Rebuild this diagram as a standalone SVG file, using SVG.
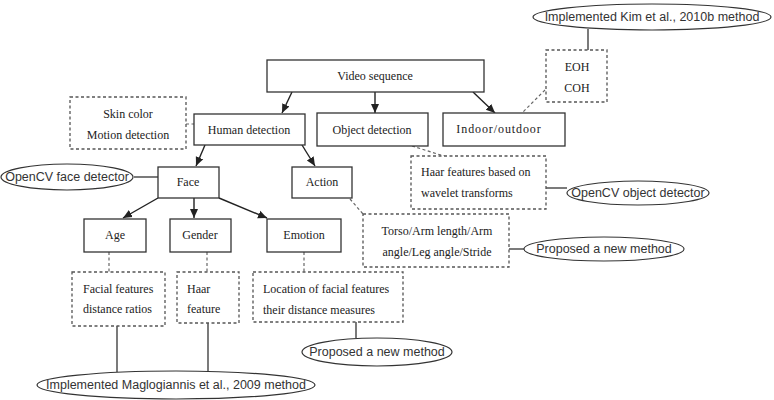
<svg xmlns="http://www.w3.org/2000/svg" width="774" height="400" viewBox="0 0 774 400">
<defs>
<marker id="ah" markerWidth="10" markerHeight="10" refX="9" refY="5" orient="auto" markerUnits="userSpaceOnUse">
<path d="M0,1 L9,5 L0,9 Z" fill="#222"/>
</marker>
<style>
.box{fill:#fff;stroke:#333;stroke-width:1.3}
.dbox{fill:#fff;stroke:#555;stroke-width:1.3;stroke-dasharray:3,2.5}
.ell{fill:#fff;stroke:#333;stroke-width:1.2}
.t{font-family:"Liberation Serif","Times New Roman",serif;font-size:12px;fill:#222}
.s{font-family:"Liberation Sans",Arial,sans-serif;font-size:12.5px;fill:#333}
.c{text-anchor:middle}
.arr{stroke:#222;stroke-width:1.4;fill:none;marker-end:url(#ah)}
.ln{stroke:#333;stroke-width:1.3;fill:none}
.dl{stroke:#666;stroke-width:1.2;fill:none;stroke-dasharray:3,2.5}
</style>
</defs>
<rect width="774" height="400" fill="#fff"/>
<g id="connectors">
<line class="arr" x1="292" y1="92" x2="282" y2="113"/>
<line class="arr" x1="375" y1="92" x2="375" y2="113"/>
<line class="arr" x1="473" y1="92" x2="495" y2="113"/>
<line class="arr" x1="205" y1="145" x2="196" y2="166"/>
<line class="arr" x1="302" y1="145" x2="315" y2="166"/>
<line class="arr" x1="158" y1="198" x2="123" y2="218"/>
<line class="arr" x1="194" y1="198" x2="194" y2="218"/>
<line class="arr" x1="219" y1="198" x2="267" y2="218"/>
<line class="dl" x1="186" y1="124" x2="194" y2="124"/>
<line class="ln" x1="134" y1="177" x2="158" y2="177"/>
<line class="dl" x1="412" y1="146" x2="447" y2="157"/>
<line class="dl" x1="545" y1="90" x2="522" y2="113"/>
<line class="ln" x1="588" y1="29" x2="588" y2="50"/>
<line class="ln" x1="546" y1="188" x2="567" y2="188"/>
<line class="dl" x1="350" y1="199" x2="363" y2="214"/>
<line class="ln" x1="509" y1="249" x2="524" y2="249"/>
<line class="dl" x1="109" y1="252" x2="109" y2="272"/>
<line class="dl" x1="207" y1="252" x2="207" y2="272"/>
<line class="dl" x1="304" y1="252" x2="304" y2="272"/>
<line class="ln" x1="356" y1="322" x2="356" y2="338"/>
<line class="ln" x1="117" y1="326" x2="117" y2="372"/>
<line class="ln" x1="208" y1="323" x2="208" y2="372"/>
</g>
<g id="video-sequence"><rect class="box" x="267" y="60" width="217" height="32"/><text class="t c" x="375" y="80">Video sequence</text></g>
<g id="human-detection"><rect class="box" x="194" y="114" width="111" height="31"/><text class="t c" x="249" y="134">Human detection</text></g>
<g id="object-detection"><rect class="box" x="317" y="113" width="111" height="33"/><text class="t c" x="372" y="134">Object detection</text></g>
<g id="indoor-outdoor"><rect class="box" x="443" y="113" width="122" height="33"/><text class="t c" x="499" y="133" letter-spacing="0.9">Indoor/outdoor</text></g>
<g id="skin-motion"><rect class="dbox" x="70" y="97" width="116" height="52"/><text class="t c" x="128" y="118">Skin color</text><text class="t c" x="128" y="139">Motion detection</text></g>
<g id="face"><rect class="box" x="158" y="167" width="61" height="31"/><text class="t c" x="188" y="186">Face</text></g>
<g id="action"><rect class="box" x="292" y="167" width="60" height="31"/><text class="t c" x="322" y="186">Action</text></g>
<g id="opencv-face"><ellipse class="ell" cx="67" cy="177" rx="66" ry="13"/><text class="s c" x="67" y="181">OpenCV face detector</text></g>
<g id="eoh-coh"><rect class="dbox" x="546" y="50" width="61" height="52"/><text class="t c" x="577" y="71">EOH</text><text class="t c" x="577" y="92">COH</text></g>
<g id="kim"><ellipse class="ell" cx="652" cy="17" rx="119" ry="13"/><text class="s c" x="652" y="21">Implemented Kim et al., 2010b method</text></g>
<g id="haar-wavelet"><rect class="dbox" x="411" y="156" width="135" height="53"/><text class="t" x="421" y="176">Haar features based on</text><text class="t" x="421" y="197">wavelet transforms</text></g>
<g id="opencv-object"><ellipse class="ell" cx="638" cy="193" rx="71" ry="12"/><text class="s c" x="638" y="197">OpenCV object detector</text></g>
<g id="torso"><rect class="dbox" x="363" y="214" width="146" height="53"/><text class="t c" x="437" y="235">Torso/Arm length/Arm</text><text class="t c" x="437" y="256">angle/Leg angle/Stride</text></g>
<g id="proposed-right"><ellipse class="ell" cx="604" cy="249" rx="80" ry="12"/><text class="s c" x="604" y="253">Proposed a new method</text></g>
<g id="age"><rect class="box" x="84" y="219" width="62" height="33"/><text class="t c" x="115" y="239">Age</text></g>
<g id="gender"><rect class="box" x="170" y="219" width="61" height="33"/><text class="t c" x="200" y="239">Gender</text></g>
<g id="emotion"><rect class="box" x="267" y="219" width="74" height="33"/><text class="t c" x="304" y="239">Emotion</text></g>
<g id="facial-ratios"><rect class="dbox" x="72" y="272" width="93" height="54"/><text class="t" x="83" y="293">Facial features</text><text class="t" x="83" y="313">distance ratios</text></g>
<g id="haar-feature"><rect class="dbox" x="177" y="272" width="62" height="51"/><text class="t" x="187" y="293">Haar</text><text class="t" x="187" y="313">feature</text></g>
<g id="location"><rect class="dbox" x="253" y="272" width="150" height="50"/><text class="t" x="263" y="293">Location of facial features</text><text class="t" x="263" y="314">their distance measures</text></g>
<g id="proposed-bottom"><ellipse class="ell" cx="377" cy="352" rx="75" ry="14"/><text class="s c" x="377" y="356">Proposed a new method</text></g>
<g id="maglogiannis"><ellipse class="ell" cx="176" cy="385" rx="139" ry="14"/><text class="s c" x="176" y="389">Implemented Maglogiannis et al., 2009 method</text></g>
</svg>
